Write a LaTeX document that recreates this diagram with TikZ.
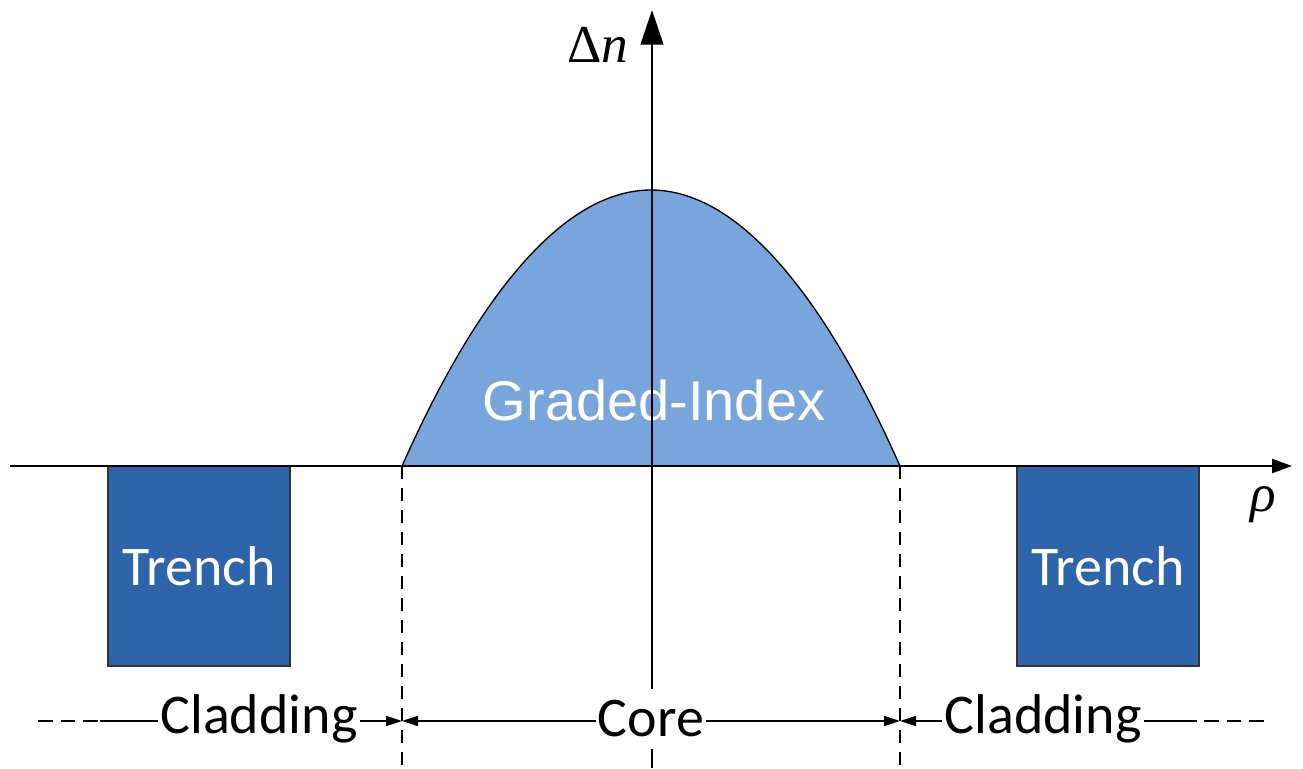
\documentclass[tikz,border=0pt]{standalone}
\usepackage{fontspec}
\setmainfont{Carlito}
\newfontfamily\arialf{Liberation Sans}
\newfontfamily\serf{Liberation Serif}
\usetikzlibrary{arrows.meta}
\definecolor{gifill}{RGB}{120,165,220}
\definecolor{trfill}{RGB}{46,100,170}
\begin{document}
\begin{tikzpicture}[x=0.75pt,y=-0.75pt,
  axis/.style={line width=1.8pt},
  dim/.style={line width=1.1pt, -{Triangle[length=12pt,width=7.5pt]}},
  dimline/.style={line width=1.1pt},
  guide/.style={line width=1.1pt, dash pattern=on 10pt off 6.5pt},
  tail/.style={line width=1.1pt, dash pattern=on 11pt off 6pt},
  trench/.style={draw=black!80, line width=0.9pt, fill=trfill, text=white,
    minimum width=136.5pt, minimum height=150pt, inner sep=0pt,
    font=\fontsize{42}{50}\selectfont},
  lab/.style={inner xsep=1.5pt, inner ysep=0pt, font=\fontsize{42}{50}\selectfont},
  sym/.style={font=\serf\fontsize{40}{48}\selectfont}
]
\useasboundingbox (0,0) rectangle (1303,768);
% key points
\coordinate (xs) at (10,466);
\coordinate (xe) at (1292,466);
\coordinate (ys) at (652,768);
\coordinate (ye) at (652,10);
\coordinate (cL) at (402,466);
\coordinate (cR) at (900,466);
\coordinate (top) at (651,190);
\coordinate (cLb) at (402,768);
\coordinate (cRb) at (900,768);
\coordinate (dL) at (402,721);
\coordinate (dR) at (900,721);
\coordinate (lsol) at (100,721);
\coordinate (lend) at (38,721);
\coordinate (rsol) at (1197,721);
\coordinate (rend) at (1264,721);
% graded-index profile
\fill[gifill] (cL) parabola bend (top) (cR) -- cycle;
\draw[line width=1pt] (cL) parabola bend (top) (cR);
\node[text=white, font=\arialf\fontsize{42}{50}\selectfont] (gi) at (654,400) {Graded-Index};
% trenches
\node[trench] (tl) at (199,566) {Trench};
\node[trench] (tr) at (1108,566) {Trench};
% guide lines
\draw[guide] (cL) -- (cLb);
\draw[guide] (cR) -- (cRb);
% axes
\draw[axis, -{Triangle[length=15pt,width=10.5pt]}] (xs) -- (xe);
\draw[axis, -{Triangle[length=26pt,width=17pt]}] (ys) -- (ye);
\node[sym] (dn) at (598,45) {Δ\textit{n}};
\node[sym] (rho) at (1263,505) {\textit{ρ}};
% dimension labels
\node[lab] (cl1) at (259,719) {Cladding};
\node[lab, fill=white, inner ysep=9pt] (core) at (651,719) {Core};
\node[lab] (cl2) at (1043,719) {Cladding};
\draw[dim] (cl1.east |- dL) -- (dL);
\draw[dim] (core.west |- dL) -- (dL);
\draw[dim] (core.east |- dR) -- (dR);
\draw[dim] (cl2.west |- dR) -- (dR);
\draw[dimline] (cl1.west |- lsol) -- (lsol);
\draw[tail] (lend) -- (lsol);
\draw[dimline] (cl2.east |- rsol) -- (rsol);
\draw[tail] (rend) -- (rsol);
\end{tikzpicture}
\end{document}
